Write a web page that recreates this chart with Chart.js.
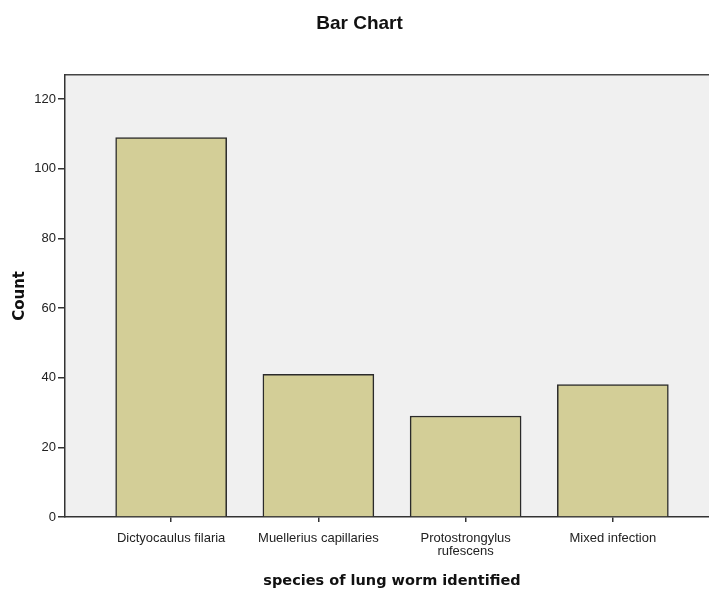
<!DOCTYPE html>
<html>
<head>
<meta charset="utf-8">
<script src="https://cdn.jsdelivr.net/npm/chart.js@4"></script>
<style>
  html, body { margin: 0; padding: 0; background: #fff; overflow: hidden; }
  #wrap { width: 720px; height: 590px; }
</style>
</head>
<body>
<div id="wrap"><canvas id="myChart"></canvas></div>
<script>
// categories and counts
const categories = ['Dictyocaulus filaria', 'Muellerius capillaries', ['Protostrongylus', 'rufescens'], 'Mixed infection'];
const counts = [109, 41, 29, 38];
const yTicks = [0, 20, 40, 60, 80, 100, 120];

// plot background and top border, SPSS style
const plotFrame = {
    id: 'plotFrame',
    beforeDraw(chart) {
        const { ctx, chartArea: a } = chart;
        ctx.save();
        ctx.fillStyle = '#f0f0f0';
        ctx.fillRect(a.left, a.top, a.right - a.left, a.bottom - a.top);
        ctx.strokeStyle = '#444';
        ctx.lineWidth = 1.5;
        ctx.beginPath();
        ctx.moveTo(a.left, a.top);
        ctx.lineTo(a.right, a.top);
        ctx.stroke();
        ctx.restore();
    }
};

function initChart() {
    const data = {
        datasets: [{
            label: 'Count',
            data: counts.map((c, i) => ({ x: i, y: c })),
            backgroundColor: 'rgb(211, 206, 151)',
            borderColor: '#2b2b2b',
            borderWidth: 1.5,
            barThickness: 111
        }]
    };

    const config = {
        type: 'bar',
        data: data,
        plugins: [plotFrame],
        options: {
            responsive: true,
            maintainAspectRatio: false,
            animation: false,
            layout: { padding: { left: 0, right: 1, top: 0, bottom: 0 } },
            plugins: {
                legend: { display: false },
                tooltip: { enabled: false },
                title: {
                    display: true,
                    text: 'Bar Chart',
                    color: '#111',
                    font: { family: 'Liberation Sans', size: 19, weight: 'bold', lineHeight: 1.2 },
                    padding: { top: 12, bottom: 40 }
                }
            },
            scales: {
                x: {
                    type: 'linear',
                    offset: false,
                    min: -0.721,
                    max: 3.721,
                    afterBuildTicks(scale) {
                        scale.ticks = categories.map((c, i) => ({ value: i }));
                    },
                    afterFit(scale) { scale.height = 73; },
                    grid: { offset: false, drawOnChartArea: false, drawTicks: true, tickLength: 5, color: '#333', lineWidth: 1.5 },
                    border: { display: true, color: '#333', width: 1.5 },
                    ticks: {
                        color: '#222',
                        font: { family: 'Liberation Sans', size: 13, lineHeight: 1 },
                        padding: 10,
                        maxRotation: 0,
                        autoSkip: false,
                        callback: (v) => categories[v]
                    },
                    title: {
                        display: true,
                        text: 'species of lung worm identified',
                        color: '#111',
                        font: { family: 'DejaVu Sans', size: 14.5, weight: 'bold' },
                        padding: { top: 10, bottom: 0 }
                    }
                },
                y: {
                    min: 0,
                    max: 127,
                    afterBuildTicks(scale) {
                        scale.ticks = yTicks.map(v => ({ value: v }));
                    },
                    afterFit(scale) { scale.width = 65; },
                    grid: { drawOnChartArea: false, drawTicks: true, tickLength: 7, color: '#333', lineWidth: 1.5 },
                    border: { display: true, color: '#333', width: 1.5 },
                    ticks: {
                        color: '#222',
                        font: { family: 'Liberation Sans', size: 13 },
                        padding: 2
                    },
                    title: {
                        display: true,
                        text: 'Count',
                        color: '#111',
                        font: { family: 'DejaVu Sans', size: 15, weight: 'bold' },
                        padding: { top: 11, bottom: 0 }
                    }
                }
            }
        }
    };
    new Chart(document.getElementById('myChart'), config);
}

document.addEventListener('DOMContentLoaded', function () {
    initChart();
});
</script>
</body>
</html>
